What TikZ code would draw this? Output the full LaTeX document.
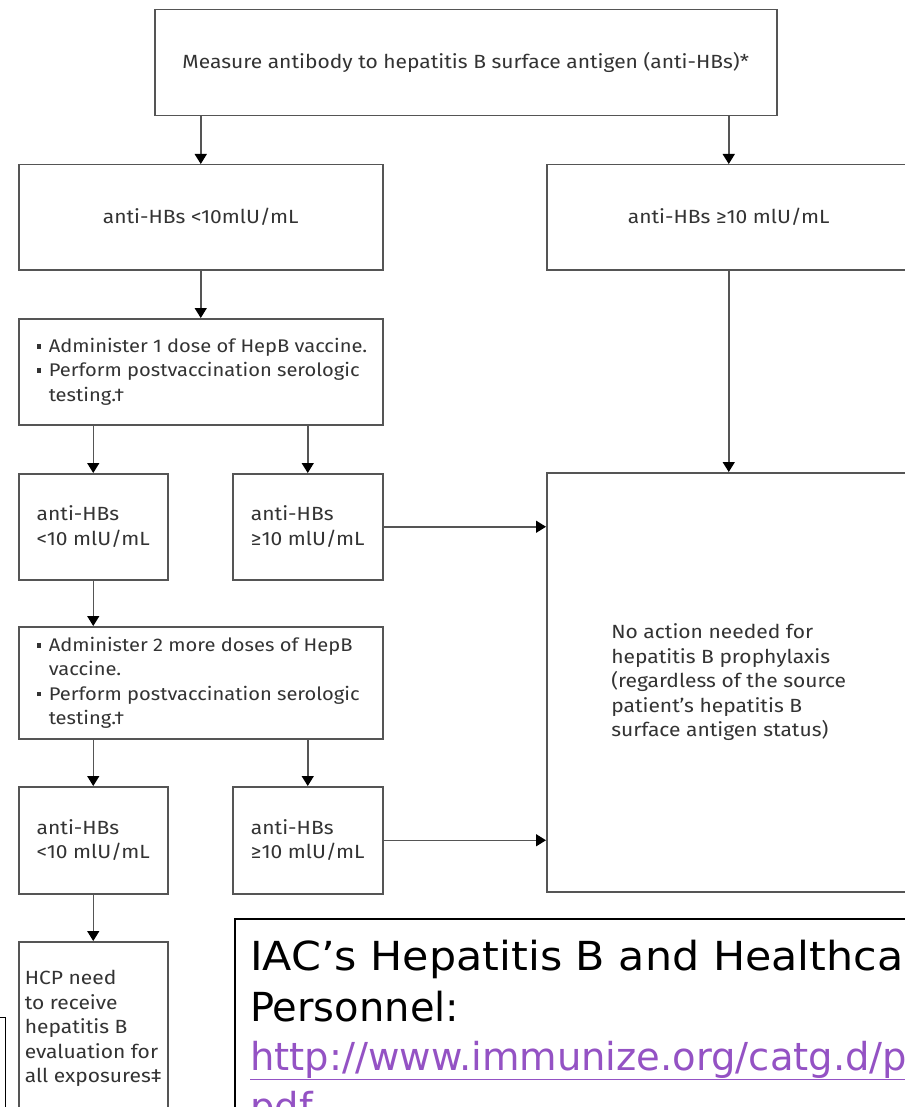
\documentclass[tikz,border=0pt]{standalone}
\usepackage{fontspec}
\setmainfont{Fira Sans}[FakeStretch=1.1]
\newfontfamily\iacfont{DejaVu Sans}
\newfontfamily\iacwide{DejaVu Sans}[FakeStretch=1.07]
\usetikzlibrary{arrows.meta}
\definecolor{txt}{HTML}{333333}
\definecolor{ln}{HTML}{555555}
\definecolor{linkc}{HTML}{9452C4}
\newcommand\bul{\makebox[12pt][l]{\rule[4pt]{4.5pt}{4.5pt}}}
\newcommand\bulltext[1]{\hspace*{18pt}\parbox{346pt}{\raggedright #1}}
\begin{document}
\begin{tikzpicture}[x=1pt,y=-1pt,
  box/.style={draw=ln, line width=1.5pt, rectangle, inner sep=0pt, text=txt,
    font=\fontsize{19.1}{24.5}\selectfont, align=center, anchor=north west},
  vacbox/.style={box, font=\fontsize{18.3}{24.2}\selectfont, align=left},
  arr/.style={draw=ln, line width=1.5pt, -{Triangle[width=12pt,length=10pt,color=black]}},
  iacline/.style={anchor=base west, inner sep=0pt, font=\iacfont\fontsize{40}{50}\selectfont},
  linkline/.style={anchor=base west, inner sep=0pt, text=linkc, font=\iacfont\fontsize{38.5}{50}\selectfont}]
\useasboundingbox (0,0) rectangle (904,1107);
\fill[white] (0,0) rectangle (904,1107);

\node[box, minimum width=622pt, minimum height=106pt] (top) at (154,9)
  {Measure antibody to hepatitis B surface antigen (anti-HBs)*};
\node[box, minimum width=364pt, minimum height=105pt] (lo1) at (18,164) {anti-HBs <10mlU/mL};
\node[box, minimum width=364pt, minimum height=105pt] (hi1) at (546,164) {anti-HBs ≥10 mlU/mL};
\node[vacbox, minimum width=364pt, minimum height=106pt] (vac1) at (18,318)
  {\bulltext{\bul Administer 1 dose of HepB vaccine.\\\bul Perform postvaccination serologic\\\hspace*{12pt}testing.†}};
\node[box, minimum width=149pt, minimum height=106pt, align=left] (lo2) at (18,473) {anti-HBs\\<10 mlU/mL};
\node[box, minimum width=150pt, minimum height=106pt, align=left] (hi2) at (232,473) {anti-HBs\\≥10 mlU/mL};
\node[box, minimum width=364pt, minimum height=419pt, align=left] (none) at (546,472)
  {No action needed for\\hepatitis B prophylaxis\\(regardless of the source\\patient’s hepatitis B\\surface antigen status)};
\node[vacbox, minimum width=364pt, minimum height=112pt] (vac2) at (18,626)
  {\bulltext{\bul Administer 2 more doses of HepB\\\hspace*{12pt}vaccine.\\\bul Perform postvaccination serologic\\\hspace*{12pt}testing.†}};
\node[box, minimum width=149pt, minimum height=107pt, align=left] (lo3) at (18,786) {anti-HBs\\<10 mlU/mL};
\node[box, minimum width=150pt, minimum height=107pt, align=left] (hi3) at (232,786) {anti-HBs\\≥10 mlU/mL};
\node[box, minimum width=149pt, minimum height=174pt, align=left] (hcp) at (18,941)
  {HCP need\\to receive\\hepatitis B\\evaluation for\\all exposures‡};

\node[draw=black, line width=1.2pt, anchor=north east, minimum width=30pt, minimum height=120pt, inner sep=0pt] (frag) at (6,1017) {};

\node[draw=black, line width=1.5pt, anchor=north west, minimum width=700pt, minimum height=220pt, inner sep=0pt] (iac) at (234,918) {};
\node[iacline, font=\iacwide\fontsize{40}{50}\selectfont] (iac1) at (250,970) {IAC’s Hepatitis B and Healthcare};
\node[iacline] (iac2) at (250,1021) {Personnel:};
\node[linkline] (iac3) at (250,1070) {\underline{http://www.immunize.org/catg.d/p}};
\node[linkline] (iac4) at (250,1120) {\underline{pdf}};

\draw[arr] (top.south -| lo1) -- (lo1.north);
\draw[arr] (top.south -| hi1) -- (hi1.north);
\draw[arr] (lo1.south) -- (vac1.north);
\draw[arr] (vac1.south -| lo2) -- (lo2.north);
\draw[arr] (vac1.south -| hi2) -- (hi2.north);
\draw[arr] (hi2.east) -- (hi2.east -| none.west);
\draw[arr] (hi1.south) -- (none.north -| hi1);
\draw[arr] (lo2.south) -- (vac2.north -| lo2);
\draw[arr] (vac2.south -| lo3) -- (lo3.north);
\draw[arr] (vac2.south -| hi3) -- (hi3.north);
\draw[arr] (hi3.east) -- (hi3.east -| none.west);
\draw[arr] (lo3.south) -- (hcp.north -| lo3);
\end{tikzpicture}
\end{document}
